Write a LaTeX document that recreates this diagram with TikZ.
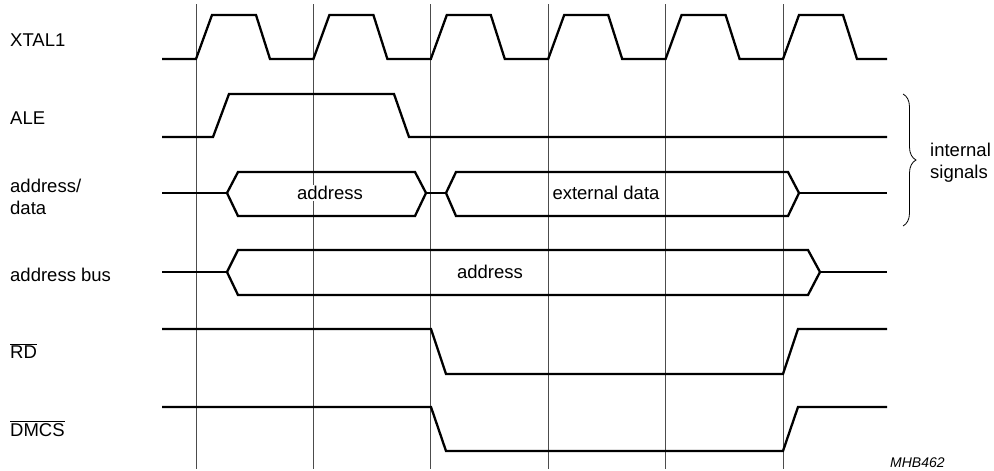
\documentclass[tikz,border=0pt]{standalone}
\usepackage{fontspec}
\setmainfont{Liberation Sans}
\usetikzlibrary{decorations.pathreplacing}

\begin{document}
\begin{tikzpicture}[x=1pt,y=-1pt,
			every node/.style={font=\fontsize{18.5}{22}\selectfont},
			wave/.style={line width=2.3pt,line join=miter},
			tick/.style={line width=0.9pt,black!70},
			lbl/.style={anchor=base west,inner sep=0pt},
			twoline/.style={anchor=west,align=left,inner sep=0pt},
			txt/.style={fill=white,inner sep=1pt}]
			\useasboundingbox (0,0) rectangle (994,471);
			\foreach \i in {0,...,5}
			  \draw[tick] ({196+117.4*\i},4) -- ({196+117.4*\i},469);
			\node[lbl] (xtal) at (10,46) {XTAL1};
			\node[lbl] (ale) at (10,124) {ALE};
			\node[twoline] (ad) at (10,197) {address/\\data};
			\node[lbl] (abus) at (10,281) {address bus};
			\node[lbl] (rd) at (10,358) {$\overline{\hbox{RD}}$};
			\node[lbl] (dmcs) at (10,436) {$\overline{\hbox{DMCS}}$};
			\draw[wave] (162,59) \foreach \i in {0,...,5} { -- ({196+117.4*\i},59) -- ({212+117.4*\i},15) -- ({256+117.4*\i},15) -- ({270+117.4*\i},59) } -- (887,59);
			\draw[wave] (162,137) -- (213,137) -- (229,94) -- (394,94) -- (409,137) -- (887,137);
			\draw[wave] (227,193) -- (238,172) -- (415,172) -- (426,193) -- (415,216) -- (238,216) -- cycle;
			\draw[wave] (446,193) -- (456,172) -- (788,172) -- (799,193) -- (788,216) -- (456,216) -- cycle;
			\draw[wave] (162,193) -- (227,193) (426,193) -- (446,193) (799,193) -- (887,193);
			\draw[wave] (227,272) -- (238,250) -- (808,250) -- (820,272) -- (808,295) -- (238,295) -- cycle;
			\draw[wave] (162,272) -- (227,272) (820,272) -- (887,272);
			\draw[wave] (162,329) -- (431,329) -- (446,374) -- (783,374) -- (798,329) -- (887,329);
			\draw[wave] (162,407) -- (431,407) -- (446,451) -- (783,451) -- (798,407) -- (887,407);
			\node[txt] (adr) at (330,193) {address};
			\node[txt] (ext) at (606,193) {external data};
			\node[txt] (bus) at (490,272) {address};
			\coordinate (bt) at (903,94);
			\coordinate (bb) at (903,226);
			\draw[line width=0.8pt,decorate,decoration={brace,amplitude=13pt}] (bt) -- (bb);
			\node[twoline] (intsig) at (930,163) {internal\\signals};
			\node[lbl,font=\fontsize{14}{16}\selectfont\itshape] (id) at (890,467) {MHB462};
		\end{tikzpicture}
\end{document}
